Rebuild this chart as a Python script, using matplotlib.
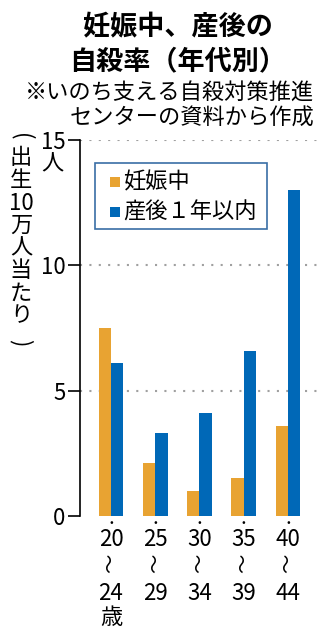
import matplotlib
matplotlib.use("Agg")
import matplotlib.pyplot as plt
from matplotlib.patches import Rectangle

plt.rcParams['font.family'] = ['Noto Sans CJK JP', 'DejaVu Sans']

# データ（出生10万人当たりの自殺率）
age_from = ["20", "25", "30", "35", "40"]
age_to = ["24", "29", "34", "39", "44"]
series_names = ["妊娠中", "産後１年以内"]
pregnant = [7.5, 2.1, 1.0, 1.5, 3.6]
postpartum = [6.1, 3.3, 4.1, 6.6, 13.0]
colors = ["#E8A332", "#0068B7"]
yticks = [0, 5, 10, 15]

W, H = 328, 640


def fx(x):
    return x / W


def fy(y):
    return 1 - y / H


fig = plt.figure(figsize=(W / 100, H / 100), dpi=100)
fig.patch.set_facecolor("white")

# 軸の位置（ピクセル基準）
ax = fig.add_axes([fx(80), fy(516), fx(322) - fx(80), fy(140) - fy(516)])
x = list(range(len(age_from)))
bw = 0.28
ax.bar([i - bw / 2 for i in x], pregnant, width=bw, color=colors[0], zorder=3)
ax.bar([i + bw / 2 for i in x], postpartum, width=bw, color=colors[1], zorder=3)
ax.set_xlim(-0.70, 4.77)
ax.set_ylim(0, 15)

for v in yticks[1:]:
    ax.axhline(v, color="#a0a0a0", linestyle=(0, (1, 3.5)), linewidth=1.5, zorder=1)

for s in ["top", "right", "bottom"]:
    ax.spines[s].set_visible(False)
ax.spines["left"].set_linewidth(1.2)
ax.set_xticks([])
ax.set_yticks(yticks)
ax.set_yticklabels([str(v) for v in yticks], fontsize=16)
ax.tick_params(axis="y", length=8.5, width=1.2, pad=2)
fig.text(fx(52), fy(164), "人", fontsize=16, ha="center", va="center")

# 縦書きの軸ラベル
ylab = ["(", "出", "生", "10", "万", "人", "当", "た", "り", ")"]
for k, ch in enumerate(ylab):
    if k == 0:
        yy = 137
    elif k == len(ylab) - 1:
        yy = 343
    else:
        yy = 158 + (k - 1) * 22.5
    rot = -90 if ch in "()" else 0
    fig.text(fx(21), fy(yy), ch, fontsize=16, ha="center", va="center", rotation=rot)

# x軸ラベル（縦に積む）
for i in x:
    xd = ax.transData.transform((i, 0))[0]
    xf = xd / fig.bbox.width
    fig.text(xf, fy(523), "•", fontsize=8, ha="center", va="center")
    fig.text(xf, fy(540), age_from[i], fontsize=16, ha="center", va="center")
    fig.text(xf, fy(563), "〜", fontsize=14, ha="center", va="center", rotation=90)
    fig.text(xf, fy(593), age_to[i], fontsize=16, ha="center", va="center")
    if i == 0:
        fig.text(xf, fy(618), "歳", fontsize=16, ha="center", va="center")

# 凡例
fig.patches.append(Rectangle((fx(95), fy(229)), fx(267) - fx(95), fy(163) - fy(229),
                             transform=fig.transFigure, facecolor="white",
                             edgecolor="#3A6EA5", linewidth=1.2, zorder=5))
for k, name in enumerate(series_names):
    yy = 182 + k * 30
    fig.patches.append(Rectangle((fx(110), fy(yy + 5)), fx(10), fx(10) * W / H,
                                 transform=fig.transFigure, facecolor=colors[k],
                                 edgecolor="none", zorder=6))
    fig.text(fx(123), fy(yy), name, fontsize=16, ha="left", va="center", zorder=7)

# タイトル
fig.text(fx(178), fy(27), "妊娠中、産後の", fontsize=19.5, fontweight="bold",
         ha="center", va="center")
fig.text(fx(178), fy(61), "自殺率（年代別）", fontsize=19.5, fontweight="bold",
         ha="center", va="center")
fig.text(fx(314), fy(92), "※いのち支える自殺対策推進", fontsize=16,
         ha="right", va="center")
fig.text(fx(314), fy(118), "センターの資料から作成", fontsize=16,
         ha="right", va="center")

fig.savefig("out.png", dpi=100, facecolor="white")
